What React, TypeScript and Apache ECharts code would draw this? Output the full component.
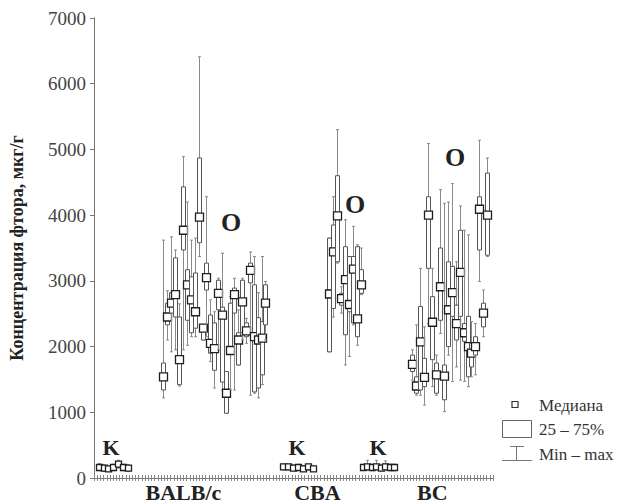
import React, { useEffect, useRef } from 'react';
import * as echarts from 'echarts';

// y axis ticks
const yMin = 0;
const yMax = 7000;
const yStep = 1000;

// group labels on the x axis (axis units)
const groupLabels: { name: string; at: number }[] = [
  { name: 'BALB/c', at: 28 },
  { name: 'CBA', at: 70 },
  { name: 'BC', at: 106 },
];

// each row: [min, q1, median, q3, max]
const balbK = [
  [110, 120, 160, 200, 220],
  [100, 110, 150, 190, 200],
  [100, 110, 140, 170, 180],
  [110, 120, 160, 200, 210],
  [150, 170, 210, 250, 270],
  [110, 130, 160, 200, 210],
  [100, 120, 150, 190, 200],
];

const balbO = [
  [1220, 1340, 1540, 1750, 3620],
  [2100, 2330, 2450, 2660, 2850],
  [1920, 2510, 2660, 2820, 3670],
  [1950, 2450, 2790, 3350, 3470],
  [1400, 1420, 1800, 2450, 2650],
  [1950, 3470, 3770, 4430, 4890],
  [2020, 2400, 2940, 3170, 4200],
  [2150, 2210, 2710, 3060, 3620],
  [2150, 2280, 2530, 3120, 3650],
  [3370, 3580, 3970, 4870, 6410],
  [2100, 2100, 2280, 2330, 2330],
  [2150, 2860, 3050, 3270, 4280],
  [1770, 1900, 2050, 2480, 2710],
  [1370, 1640, 1970, 2360, 2530],
  [1950, 2560, 2810, 3010, 3040],
  [1340, 1460, 2480, 2600, 3420],
  [985, 985, 1290, 1620, 1620],
  [1340, 1900, 1940, 2660, 2760],
  [1340, 2510, 2790, 2890, 3040],
  [1720, 1720, 2100, 2210, 2560],
  [2100, 2210, 2680, 3010, 3040],
  [2050, 2150, 2240, 2360, 2430],
  [1260, 2970, 3160, 3270, 3440],
  [1290, 1310, 2150, 2940, 3370],
  [1220, 1370, 2100, 2440, 2820],
  [1420, 1570, 2130, 2380, 3370],
  [2100, 2330, 2660, 2940, 2990],
];

const cbaK = [
  [120, 130, 170, 200, 210],
  [120, 130, 170, 200, 210],
  [110, 120, 150, 190, 200],
  [120, 130, 160, 200, 210],
  [100, 110, 140, 180, 190],
  [120, 130, 170, 200, 210],
  [100, 110, 140, 170, 180],
];

const cbaO = [
  [1920, 1920, 2800, 3650, 3650],
  [2450, 2580, 3440, 3850, 4280],
  [3270, 3290, 3990, 4600, 5300],
  [2510, 2630, 2730, 2810, 2910],
  [1720, 2180, 3020, 3520, 3930],
  [1850, 2530, 2640, 3370, 3370],
  [2330, 2360, 3180, 3370, 3830],
  [2020, 2150, 2420, 3520, 3550],
  [2790, 2810, 2940, 3170, 3500],
];

const bcK = [
  [120, 130, 160, 200, 210],
  [120, 130, 170, 200, 270],
  [110, 120, 160, 190, 200],
  [120, 130, 170, 200, 270],
  [110, 120, 150, 190, 200],
  [120, 140, 170, 210, 260],
  [110, 130, 160, 200, 210],
  [110, 130, 160, 200, 210],
];

const bcO = [
  [1490, 1620, 1730, 1870, 1950],
  [1260, 1290, 1400, 1540, 2330],
  [1260, 1340, 2070, 2610, 3190],
  [1110, 1390, 1530, 1820, 2300],
  [2350, 3190, 4000, 4280, 5090],
  [1390, 1800, 2370, 2760, 3190],
  [1260, 1290, 1570, 1750, 1870],
  [2200, 2400, 2910, 3500, 4390],
  [1010, 1190, 1550, 1720, 4180],
  [1870, 2000, 2560, 3290, 4200],
  [1470, 2460, 2820, 3220, 4480],
  [1690, 2100, 2350, 2630, 3290],
  [1490, 2460, 3130, 3770, 4140],
  [1470, 2080, 2210, 2350, 3770],
  [1390, 1540, 2000, 2460, 3700],
  [1540, 1690, 1900, 2050, 2380],
  [1570, 1870, 2000, 2150, 2350],
  [2990, 3470, 4090, 4280, 5140],
  [2150, 2300, 2510, 2660, 2860],
  [3370, 3390, 4000, 4640, 4870],
];

// layout of the groups along the x axis (axis units, 0..125)
const groups = [
  { rows: balbK, start: 1.5, step: 1.5, box: 5, med: 6 },
  { rows: balbO, start: 21.7, step: 1.231, box: 4, med: 8 },
  { rows: cbaK, start: 59.2, step: 1.55, box: 5, med: 6 },
  { rows: cbaO, start: 73.6, step: 1.25, box: 4, med: 8 },
  { rows: bcK, start: 84.3, step: 1.38, box: 5, med: 6 },
  { rows: bcO, start: 99.7, step: 1.237, box: 4, med: 8 },
];

const SERIF = 'Liberation Serif';

export default function App() {
  const ref = useRef<HTMLDivElement>(null);

  useEffect(() => {
    if (!ref.current) return;
    const chart = echarts.init(ref.current, undefined, { renderer: 'svg' });

    const makeSeries = (g: (typeof groups)[number]) => ({
      type: 'custom',
      data: g.rows.map((r, i) => [g.start + i * g.step, ...r]),
      encode: { x: 0, y: [1, 2, 3, 4, 5] },
      renderItem: (params: any, api: any) => {
        const x = api.value(0);
        const pMin = api.coord([x, api.value(1)]);
        const pQ1 = api.coord([x, api.value(2)]);
        const pMed = api.coord([x, api.value(3)]);
        const pQ3 = api.coord([x, api.value(4)]);
        const pMax = api.coord([x, api.value(5)]);
        const cx = Math.round(pMin[0]) + 0.5;
        const bw = g.box;
        const ms = g.med;
        return {
          type: 'group',
          children: [
            {
              type: 'line',
              shape: { x1: cx, y1: pMax[1], x2: cx, y2: pMin[1] },
              style: { stroke: '#8a8a8a', lineWidth: 1 },
            },
            {
              type: 'line',
              shape: { x1: cx - 1.5, y1: pMax[1], x2: cx + 1.5, y2: pMax[1] },
              style: { stroke: '#8a8a8a', lineWidth: 1 },
            },
            {
              type: 'line',
              shape: { x1: cx - 1.5, y1: pMin[1], x2: cx + 1.5, y2: pMin[1] },
              style: { stroke: '#8a8a8a', lineWidth: 1 },
            },
            {
              type: 'rect',
              shape: { x: cx - bw / 2, y: pQ3[1], width: bw, height: Math.max(1, pQ1[1] - pQ3[1]) },
              style: { fill: '#fff', stroke: '#555', lineWidth: 1 },
            },
            {
              type: 'rect',
              shape: { x: cx - ms / 2, y: pMed[1] - ms / 2, width: ms, height: ms },
              style: { fill: '#fff', stroke: '#1e1e1e', lineWidth: 1.3 },
            },
          ],
        };
      },
    });

    const labelAt: Record<number, string> = {};
    groupLabels.forEach((l) => (labelAt[l.at] = l.name));

    const bigText = (text: string, x: number, y: number, size: number) => ({
      type: 'text',
      x,
      y,
      style: {
        text,
        fontFamily: SERIF,
        fontWeight: 'bold',
        fontSize: size,
        fill: '#222',
        textAlign: 'center',
        textVerticalAlign: 'middle',
      },
    });

    const legendText = (text: string, y: number) => ({
      type: 'text',
      x: 539,
      y,
      style: {
        text,
        fontFamily: SERIF,
        fontSize: 17,
        fill: '#333',
        textVerticalAlign: 'middle',
      },
    });

    chart.setOption({
      animation: false,
      grid: { left: 92, right: 131, top: 18, bottom: 25 },
      xAxis: [
        {
          type: 'value',
          min: 0,
          max: 125,
          interval: 1,
          position: 'bottom',
          splitLine: { show: false },
          axisLine: { show: true, lineStyle: { color: '#777', width: 1 } },
          axisTick: { show: true, inside: true, length: 3, lineStyle: { color: '#888' } },
          axisLabel: {
            margin: 3,
            formatter: (v: number) => labelAt[Math.round(v)] || '',
            fontFamily: SERIF,
            fontWeight: 'bold',
            fontSize: 22,
            color: '#222',
          },
        },
        {
          type: 'value',
          min: 0,
          max: 125,
          interval: 1,
          position: 'top',
          splitLine: { show: false },
          axisLine: { show: true, lineStyle: { color: '#777', width: 1 } },
          axisTick: { show: true, inside: true, length: 3, lineStyle: { color: '#888' } },
          axisLabel: { show: false },
        },
      ],
      yAxis: [
        {
          type: 'value',
          min: yMin,
          max: yMax,
          interval: yStep,
          position: 'left',
          splitLine: { show: false },
          axisLine: { show: true, lineStyle: { color: '#777', width: 1 } },
          axisTick: { show: true, inside: false, length: 4, lineStyle: { color: '#777' } },
          axisLabel: {
            fontFamily: SERIF,
            fontSize: 19,
            color: '#444',
            margin: 8,
            formatter: (v: number) => String(v),
          },
          name: 'Концентрация фтора, мкг/г',
          nameLocation: 'middle',
          nameGap: 68,
          nameTextStyle: { fontFamily: SERIF, fontWeight: 'bold', fontSize: 18, color: '#222' },
        },
        {
          type: 'value',
          min: yMin,
          max: yMax,
          interval: yStep,
          position: 'right',
          splitLine: { show: false },
          axisLine: { show: true, lineStyle: { color: '#777', width: 1 } },
          axisTick: { show: true, inside: true, length: 4, lineStyle: { color: '#777' } },
          axisLabel: { show: false },
        },
      ],
      series: groups.map(makeSeries),
      graphic: [
        bigText('O', 231, 222, 26),
        bigText('O', 355, 204, 26),
        bigText('O', 455, 157, 26),
        bigText('K', 111, 447, 22),
        bigText('K', 297, 447, 22),
        bigText('K', 378, 447, 22),
        // legend
        {
          type: 'rect',
          shape: { x: 512, y: 401.5, width: 6, height: 6 },
          style: { fill: '#fff', stroke: '#333', lineWidth: 1.2 },
        },
        legendText('Медиана', 405),
        {
          type: 'rect',
          shape: { x: 502.5, y: 420.5, width: 29, height: 17 },
          style: { fill: '#fff', stroke: '#666', lineWidth: 1 },
        },
        legendText('25 – 75%', 429),
        {
          type: 'line',
          shape: { x1: 510, y1: 446.5, x2: 524, y2: 446.5 },
          style: { stroke: '#777', lineWidth: 1 },
        },
        {
          type: 'line',
          shape: { x1: 516.5, y1: 446.5, x2: 516.5, y2: 460.5 },
          style: { stroke: '#777', lineWidth: 1 },
        },
        {
          type: 'line',
          shape: { x1: 502, y1: 460.5, x2: 532, y2: 460.5 },
          style: { stroke: '#777', lineWidth: 1 },
        },
        legendText('Min – max', 454),
      ],
    });

    return () => chart.dispose();
  }, []);

  return (
    <div
      ref={ref}
      style={{ position: 'fixed', left: 0, top: 0, width: 624, height: 503, background: '#fff' }}
    />
  );
}
